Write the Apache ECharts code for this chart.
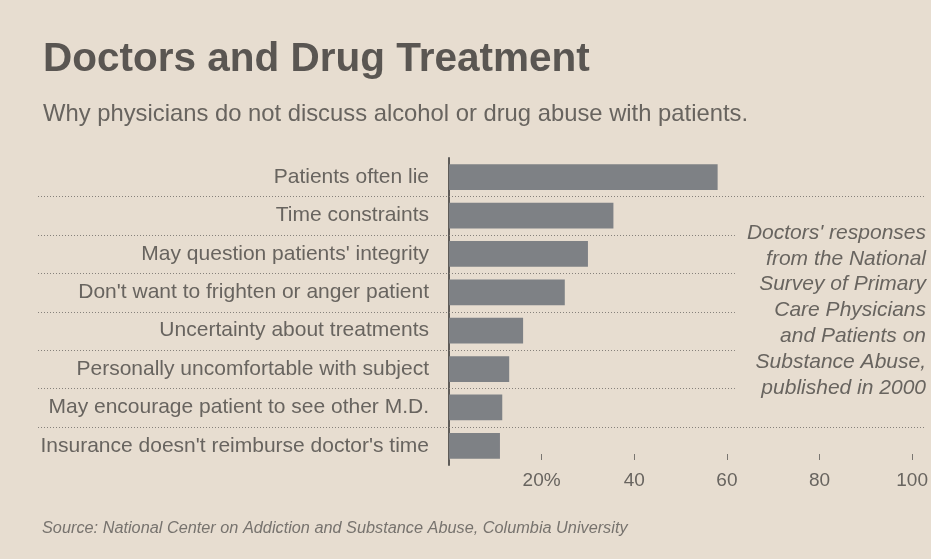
<!DOCTYPE html>
<html><head><meta charset="utf-8">
<script src="https://cdn.jsdelivr.net/npm/echarts@6/dist/echarts.min.js"></script>
<style>html,body{margin:0;padding:0;background:#e7ddd0}#c{width:931px;height:559px}</style>
</head><body><div id="c"></div>
<script>
const titleText = "Doctors and Drug Treatment";
const subtitleText = "Why physicians do not discuss alcohol or drug abuse with patients.";
const sourceText = "Source: National Center on Addiction and Substance Abuse, Columbia University";
const categories = [
  "Patients often lie",
  "Time constraints",
  "May question patients' integrity",
  "Don't want to frighten or anger patient",
  "Uncertainty about treatments",
  "Personally uncomfortable with subject",
  "May encourage patient to see other M.D.",
  "Insurance doesn't reimburse doctor's time"
];
const values = [58, 35.5, 30, 25, 16, 13, 11.5, 11];
const xTickLabels = {0: "", 20: "20%", 40: "40", 60: "60", 80: "80", 100: "100"};
const noteLines = [
  "Doctors' responses",
  "from the National",
  "Survey of Primary",
  "Care Physicians",
  "and Patients on",
  "Substance Abuse,",
  "published in 2000"
];

const FONT = "'Liberation Sans', Arial, Helvetica, sans-serif";
const TXT = '#68645f';
const chart = echarts.init(document.getElementById('c'));
chart.setOption({
  backgroundColor: '#e7ddd0',
  animation: false,
  textStyle: {fontFamily: FONT},
  title: [
    {text: titleText, left: 43, top: 39, padding: 0,
     textStyle: {fontFamily: FONT, fontWeight: 'bold', fontSize: 40.5, color: '#5a5652'}},
    {text: subtitleText, left: 43, top: 102, padding: 0,
     textStyle: {fontFamily: FONT, fontWeight: 'normal', fontSize: 23.8, color: TXT}},
    {text: sourceText, left: 42, top: 520, padding: 0,
     textStyle: {fontFamily: FONT, fontWeight: 'normal', fontStyle: 'italic', fontSize: 16.3, color: '#77736e'}}
  ],
  grid: {left: 449, right: 18, top: 158, bottom: 94, containLabel: false},
  xAxis: {
    type: 'value', min: 0, max: 100, interval: 20, offset: -5,
    axisLine: {show: false},
    splitLine: {show: false},
    axisTick: {show: true, inside: true, length: 6, lineStyle: {color: '#7a7671'}},
    axisLabel: {margin: 11, fontSize: 19, color: TXT, fontFamily: FONT,
      formatter: v => xTickLabels[v] !== undefined ? xTickLabels[v] : String(v)}
  },
  yAxis: {
    type: 'category', inverse: true, data: categories,
    axisLine: {show: true, lineStyle: {color: '#5e5b58', width: 2}},
    axisTick: {show: false},
    axisLabel: {margin: 20, fontSize: 21, color: TXT, fontFamily: FONT, padding: [6, 0, 0, 0]}
  },
  series: [{
    type: 'bar', data: values, barWidth: '67%', silent: true,
    itemStyle: {color: '#7e8185'}
  }]
});

const graphics = [];
for (let i = 0; i < categories.length - 1; i++) {
  const y0 = chart.convertToPixel({yAxisIndex: 0}, categories[i]);
  const y1 = chart.convertToPixel({yAxisIndex: 0}, categories[i + 1]);
  const y = Math.round((y0 + y1) / 2) + 0.5;
  graphics.push({
    type: 'line', silent: true, z: 5,
    shape: {x1: 38, y1: y, x2: 925, y2: y},
    style: {stroke: '#86817b', lineWidth: 1, lineDash: [1, 2]}
  });
}
graphics.push({
  type: 'text', silent: true, z: 10,
  style: {
    text: noteLines.join('\n'), x: 928, y: 217,
    align: 'right', verticalAlign: 'top',
    font: "italic 21px " + FONT, lineHeight: 25.8,
    fill: TXT, backgroundColor: '#e7ddd0', padding: [3, 2, 6, 12]
  }
});
chart.setOption({graphic: graphics});
</script></body></html>
